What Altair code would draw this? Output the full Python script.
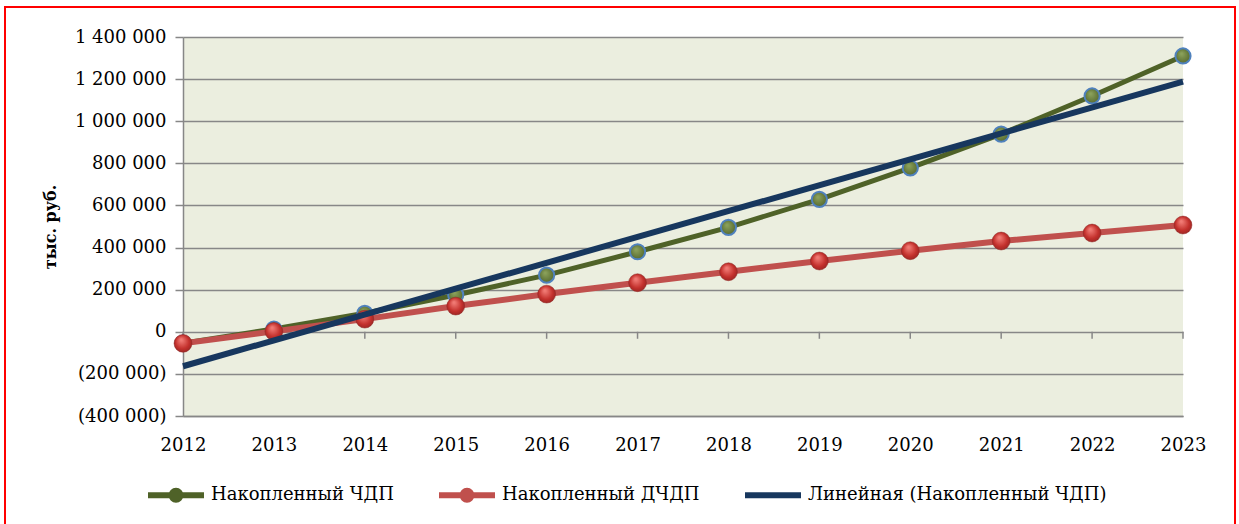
import altair as alt
import pandas as pd

years = list(range(2012, 2024))
chdp = [-54000, 13000, 88000, 175000, 269000, 380000, 496000, 629000, 778000, 939000, 1120000, 1310000]
dchdp = [-55000, 2000, 60000, 122000, 179000, 233000, 285000, 336000, 385000, 431000, 469000, 507000]
series_names = ["Накопленный ЧДП", "Накопленный ДЧДП", "Линейная (Накопленный ЧДП)"]
colors = ["#4F6228", "#C0504D", "#17375E"]
y_ticks = [-400000, -200000, 0, 200000, 400000, 600000, 800000, 1000000, 1200000, 1400000]
y_title = "тыс. руб."

rows = []
for y, a, b in zip(years, chdp, dchdp):
    rows.append({"year": y, "value": a, "series": series_names[0]})
    rows.append({"year": y, "value": b, "series": series_names[1]})
df = pd.DataFrame(rows)
ydf = pd.DataFrame({"year": years})
legdf = pd.DataFrame({"year": [years[0]] * 3, "value": [0] * 3, "series": series_names})

GRID = "#878787"
xs = alt.Scale(domain=[years[0], years[-1]], nice=False, zero=False)
ys = alt.Scale(domain=[y_ticks[0], y_ticks[-1]], nice=False, zero=False)
cs = alt.Scale(domain=series_names, range=colors)

marker_path = "M-1,0H1M0.16,0A0.16,0.16 0 1,1 -0.16,0A0.16,0.16 0 1,1 0.16,0"
line_path = "M-1,0H1M0,-0.16V-0.16M0,0.16V0.16"
ss = alt.Scale(domain=series_names, range=[marker_path, marker_path, line_path])

X = alt.X("year:Q", scale=xs, axis=alt.Axis(
    values=years, format="d", title=None, ticks=False, grid=False,
    domainColor=GRID, domainWidth=1.5, labelFont="DejaVu Serif", labelFontSize=18,
    labelColor="black", labelPadding=20, labelFlush=False))
Y = alt.Y("value:Q", scale=ys, axis=alt.Axis(
    values=y_ticks, format="(,d", title=y_title, grid=True, gridColor=GRID, gridWidth=1.5,
    domainColor=GRID, domainWidth=1.5, tickColor=GRID, tickWidth=1.5, tickSize=8,
    labelFont="DejaVu Serif", labelFontSize=18, labelColor="black", labelPadding=9,
    titleFont="DejaVu Serif", titleFontSize=16, titleFontWeight="bold", titleColor="black",
    titlePadding=16))

LEG = alt.Legend(
    title=None, orient="none", direction="horizontal", legendX=-38, legendY=427,
    symbolStrokeWidth=6, symbolSize=3136, columnPadding=33,
    labelFont="DejaVu Serif", labelFontSize=18, labelColor="black", labelOffset=4,
    labelLimit=400)
C = alt.Color("series:N", scale=cs, legend=LEG)
S = alt.Shape("series:N", scale=ss, legend=LEG)

base = alt.Chart(df)

x_ticks = alt.Chart(ydf).mark_rule(color=GRID, strokeWidth=1.5, y2Offset=7).encode(
    x=alt.X("year:Q", scale=xs), y=alt.datum(0), y2=alt.datum(0))

green = base.transform_filter(alt.datum.series == series_names[0])
red = base.transform_filter(alt.datum.series == series_names[1])

green_line = green.mark_line(strokeWidth=5).encode(x=X, y=Y, color=C)
green_pts = green.mark_point(
    filled=True, size=230, strokeWidth=2, stroke="#4F81BD",
    fill=alt.Gradient(gradient="radial", x1=0.4, y1=0.35, r1=0.05, x2=0.5, y2=0.5, r2=0.6,
                      stops=[alt.GradientStop(color="#8AA05A", offset=0),
                             alt.GradientStop(color="#4F6228", offset=1)]),
    opacity=1).encode(x=alt.X("year:Q", scale=xs), y=alt.Y("value:Q", scale=ys))
red_line = red.mark_line(strokeWidth=6).encode(x=X, y=Y, color=C)
red_pts = red.mark_point(
    filled=True, size=320, strokeWidth=0.5, stroke="#8E2422",
    fill=alt.Gradient(gradient="radial", x1=0.4, y1=0.3, r1=0.05, x2=0.5, y2=0.5, r2=0.6,
                      stops=[alt.GradientStop(color="#F07A74", offset=0),
                             alt.GradientStop(color="#C3302C", offset=0.6),
                             alt.GradientStop(color="#8E2422", offset=1)]),
    opacity=1).encode(x=alt.X("year:Q", scale=xs), y=alt.Y("value:Q", scale=ys))
trend = green.transform_regression("year", "value", method="linear").transform_calculate(
    series=f"'{series_names[2]}'").mark_line(strokeWidth=6).encode(x=X, y=Y, color=C)

legend_layer = alt.Chart(legdf).mark_point(
    filled=False, size=1, strokeOpacity=0, fillOpacity=0).encode(
    x=alt.X("year:Q", scale=xs), y=alt.Y("value:Q", scale=ys), color=C, shape=S)

frame = alt.Chart(ydf).mark_rect(fill="transparent", stroke="#FF0000", strokeWidth=2).encode(
    x=alt.value(-178), x2=alt.value(1052), y=alt.value(-30), y2=alt.value(520))

chart = alt.layer(x_ticks, green_line, green_pts, red_line, red_pts, trend,
                  legend_layer, frame).properties(
    width=1000, height=379,
    autosize=alt.AutoSizeParams(type="none"),
    padding={"left": 183, "top": 37, "right": 56, "bottom": 108},
).configure(
    locale={"number": {"decimal": ",", "thousands": " ", "grouping": [3], "currency": ["", ""]}}
).configure_view(fill="#EBEEDF", strokeWidth=0, clip=False)

chart.save("out.html", embed_options={"renderer": "svg", "actions": False})
